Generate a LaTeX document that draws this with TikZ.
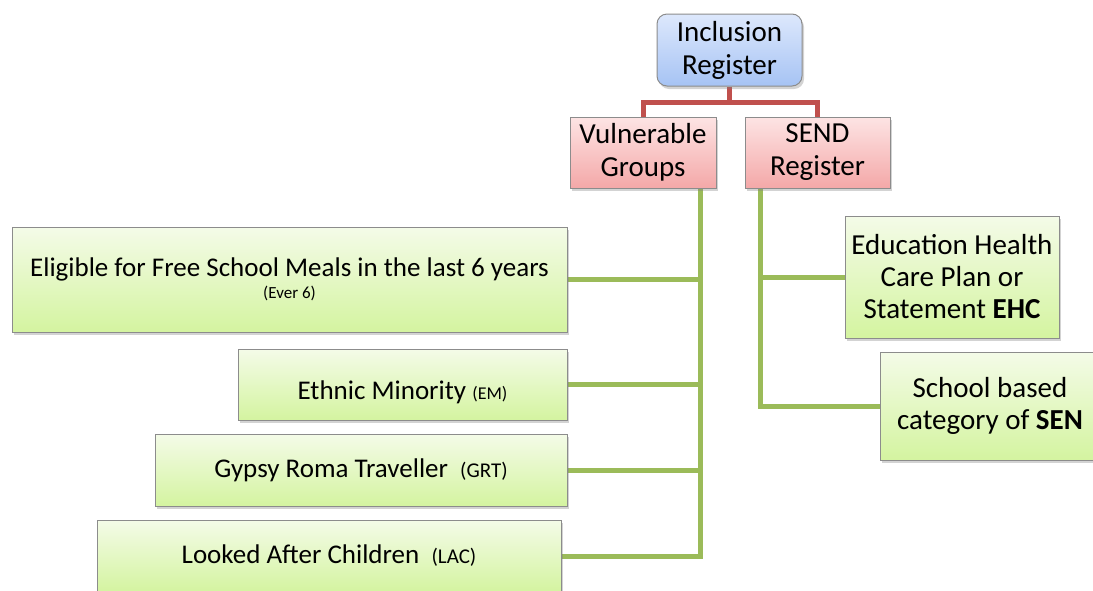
\documentclass[tikz,border=0pt]{standalone}
\usepackage{fontspec}
\setmainfont{Carlito}
\usetikzlibrary{shadows,backgrounds}
\definecolor{bluetop}{HTML}{DDE8FC}
\definecolor{bluebot}{HTML}{A6C3F4}
\definecolor{pinktop}{HTML}{FDE4E4}
\definecolor{pinkbot}{HTML}{F4A8A8}
\definecolor{greentop}{HTML}{F4FBE8}
\definecolor{greenbot}{HTML}{D4F4A0}
\definecolor{redline}{HTML}{C0504D}
\definecolor{greenline}{HTML}{9BBB59}
\definecolor{edgegray}{HTML}{8C8C8C}
\tikzset{
  box/.style={draw=edgegray, line width=1pt, inner sep=0pt, align=center,
    drop shadow={opacity=0.35, shadow xshift=2pt, shadow yshift=-3pt}},
  bluebox/.style={box, rounded corners=10pt, top color=bluetop, bottom color=bluebot,
    font=\fontsize{29}{33}\selectfont},
  pinkbox/.style={box, top color=pinktop, bottom color=pinkbot,
    font=\fontsize{29}{33}\selectfont},
  greenbox/.style={box, top color=greentop, bottom color=greenbot,
    font=\fontsize{27}{32}\selectfont},
  rline/.style={draw=redline, line width=5pt},
  gline/.style={draw=greenline, line width=5pt}
}
\newcommand{\smalltxt}[2][17]{{\fontsize{#1}{20}\selectfont #2}}
\begin{document}
\begin{tikzpicture}[x=1pt,y=-1pt]
\useasboundingbox (0,0) rectangle (1093,590);
\node[bluebox, minimum width=145pt, minimum height=72pt] (inc) at (729.5,50) {Inclusion\\Register};
\node[pinkbox, minimum width=146pt, minimum height=71pt] (vg) at (643,152.5) {Vulnerable\\Groups};
\node[pinkbox, minimum width=145pt, minimum height=71pt] (send) at (817.5,152.5) {SEND\\Register};
\node[greenbox, minimum width=555pt, minimum height=105pt] (fsm) at (289.5,279.5) {Eligible for Free School Meals in the last 6 years\\[-10pt]\smalltxt{(Ever 6)}};
\node[greenbox, minimum width=329pt, minimum height=71pt, text depth=0pt] (em) at (402.5,384.5) {\raisebox{-12pt}{Ethnic Minority \smalltxt[18]{(EM)}}};
\node[greenbox, minimum width=412pt, minimum height=72pt] (grt) at (361,470) {Gypsy Roma Traveller\ \ \smalltxt[21]{(GRT)}};
\node[greenbox, minimum width=464pt, minimum height=72pt] (lac) at (329,556) {Looked After Children\ \ \smalltxt[21]{(LAC)}};
\node[greenbox, minimum width=214pt, minimum height=122pt, font=\fontsize{29}{32}\selectfont] (ehc) at (952,277) {Education Health\\Care Plan or\\Statement \textbf{EHC}};
\node[greenbox, minimum width=220pt, minimum height=108pt, font=\fontsize{29}{32}\selectfont] (sen) at (990,406) {School based\\category of \textbf{SEN}};
\coordinate (vgx) at (700,188);
\coordinate (sendx) at (760,188);
\begin{scope}[on background layer]
\draw[rline] (inc.south) -- ++(0,16) -| (vg.north);
\draw[rline] (inc.south) -- ++(0,16) -| (send.north);
\draw[gline] (vgx) |- (fsm.east);
\draw[gline] (vgx) |- (em.east);
\draw[gline] (vgx) |- (grt.east);
\draw[gline] (vgx) |- (lac.east);
\draw[gline] (sendx) |- (ehc.west);
\draw[gline] (sendx) |- (sen.west);
\end{scope}
\end{tikzpicture}
\end{document}
